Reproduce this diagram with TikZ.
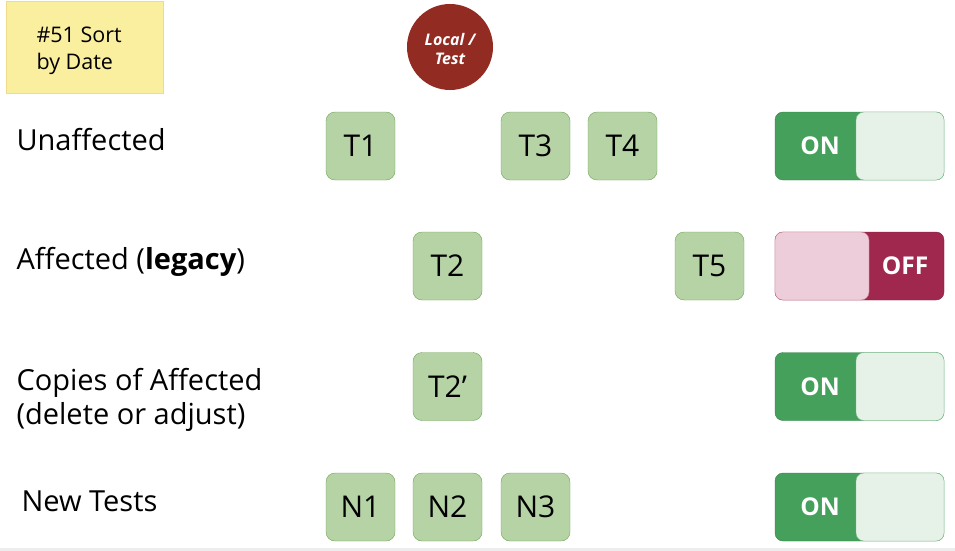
\documentclass[tikz,border=0pt]{standalone}
\usepackage{fontspec}
\setmainfont{Open Sans}
\definecolor{note}{HTML}{FAEE9F}
\definecolor{noteline}{HTML}{EEDC8A}
\definecolor{local}{HTML}{922B22}
\definecolor{testfill}{HTML}{B6D3A6}
\definecolor{testline}{HTML}{6FA352}
\definecolor{ongreen}{HTML}{44A05B}
\definecolor{onlight}{HTML}{E6F1E7}
\definecolor{offred}{HTML}{A0284F}
\definecolor{offlight}{HTML}{ECCDD9}
\usetikzlibrary{positioning}

\tikzset{
  testbox/.style={rectangle, rounded corners=9pt, draw=testline, fill=testfill, minimum width=69pt, minimum height=68pt, font=\fontsize{30}{34}\selectfont},
  rowlabel/.style={anchor=west, align=left, font=\fontsize{29}{34}\selectfont},
  switchbase/.style={rectangle, rounded corners=8pt, minimum width=169pt, minimum height=68pt},
  switchknob/.style={rectangle, rounded corners=8pt, minimum height=68pt},
  switchtext/.style={text=white, font=\fontsize{24.5}{28}\selectfont\bfseries}
}

\begin{document}
\begin{tikzpicture}[x=1pt, y=-1pt]
      \useasboundingbox (0,0) rectangle (955,551);
      \fill[black!7] (0,548) rectangle (955,551);
      % sticky note and local/test badge
      \node[rectangle, draw=noteline, fill=note, minimum width=157pt, minimum height=92pt] (note) at (84.5,47) {};
      \node[anchor=west, align=left, font=\fontsize{21.5}{27}\selectfont] (notetxt) at (33,51) {\#51 Sort\\by Date};
      \node[circle, fill=local, minimum size=86pt, inner sep=0pt] (local) at (450,47) {};
      \node[align=center, text=white, font=\fontsize{16}{20}\selectfont\bfseries\itshape, yshift=-2pt] (localtxt) at (local.center) {Local /\\Test};
      % row labels
      \node[rowlabel] (r1) at (13,140) {Unaffected};
      \node[rowlabel] (r2) at (13,262) {Affected (\textbf{legacy})};
      \node[rowlabel] (r3) at (13,400) {Copies of Affected\\(delete or adjust)};
      \node[rowlabel] (r4) at (18,501) {New Tests};
      % tests
      \node[testbox] (t1) at (360.5,146) {T1};
      \node[testbox, xshift=175pt] (t3) at (t1.center) {T3};
      \node[testbox, xshift=87pt] (t4) at (t3.center) {T4};
      \node[testbox] (t2) at (447.5,266) {T2};
      \node[testbox, xshift=262pt] (t5) at (t2.center) {T5};
      \node[testbox, yshift=-120.5pt] (t2c) at (t2.center) {T2’};
      \node[testbox] (n1) at (360.5,507) {N1};
      \node[testbox, xshift=87pt] (n2) at (n1.center) {N2};
      \node[testbox, xshift=88pt] (n3) at (n2.center) {N3};
      % switches
      \foreach \name/\y in {s1/146, s3/386.5, s4/507} {
        \node[switchbase, draw=ongreen!80!black, fill=ongreen] (\name) at (859.5,\y) {};
        \node[switchknob, draw=ongreen!70, fill=onlight, minimum width=88pt, anchor=east] (\name k) at (\name.east) {};
        \node[switchtext] (\name t) at (820,\y) {ON};
      }
      \node[switchbase, draw=offred!80!black, fill=offred] (s2) at (859.5,266) {};
      \node[switchknob, draw=offred!60, fill=offlight, minimum width=94pt, anchor=west] (s2k) at (s2.west) {};
      \node[switchtext] (s2t) at (905,266) {OFF};
    \end{tikzpicture}
\end{document}
